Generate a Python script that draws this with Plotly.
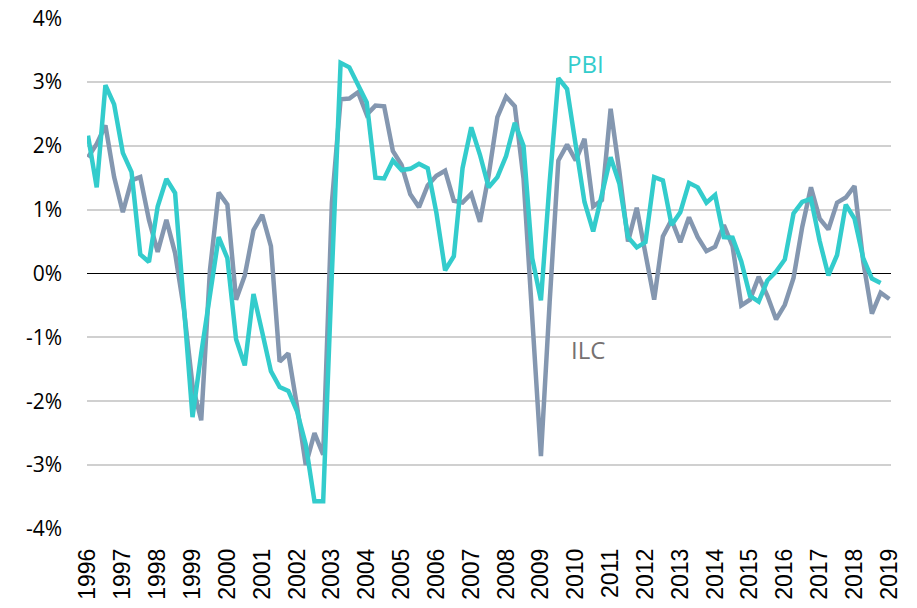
import plotly.graph_objects as go

years = [str(y) for y in range(1996, 2020)]

pbi = [2.16, 1.35, 2.95, 2.65, 1.89, 1.59, 0.30, 0.18, 1.05, 1.48,
       1.26, -0.50, -2.25, -1.25, -0.35, 0.57, 0.24, -1.03, -1.44, -0.32,
       -0.92, -1.53, -1.78, -1.84, -2.16, -2.68, -3.57, -3.57, 0.00, 3.30,
       3.23, 2.95, 2.68, 1.50, 1.49, 1.77, 1.62, 1.64, 1.72, 1.65,
       0.95, 0.05, 0.27, 1.65, 2.29, 1.86, 1.35, 1.51, 1.84, 2.36,
       2.00, 0.24, -0.42, 1.43, 3.06, 2.89, 2.03, 1.12, 0.66, 1.27,
       1.82, 1.41, 0.57, 0.41, 0.49, 1.51, 1.46, 0.76, 0.96, 1.42,
       1.35, 1.11, 1.23, 0.57, 0.56, 0.19, -0.35, -0.44, -0.11, 0.03,
       0.22, 0.94, 1.12, 1.17, 0.51, -0.03, 0.29, 1.08, 0.86, 0.24,
       -0.08, -0.15]

ilc = [1.82, 2.03, 2.32, 1.51, 0.96, 1.46, 1.51, 0.84, 0.34, 0.84,
       0.32, -0.55, -1.75, -2.30, 0.05, 1.27, 1.08, -0.41, -0.03, 0.68,
       0.92, 0.43, -1.38, -1.25, -2.08, -3.00, -2.50, -2.84, 1.11, 2.73,
       2.74, 2.84, 2.49, 2.63, 2.62, 1.92, 1.70, 1.24, 1.04, 1.38,
       1.53, 1.61, 1.14, 1.11, 1.25, 0.81, 1.54, 2.45, 2.77, 2.62,
       1.49, -0.60, -2.86, -0.45, 1.77, 2.02, 1.77, 2.11, 1.05, 1.15,
       2.58, 1.60, 0.50, 1.03, 0.30, -0.41, 0.58, 0.84, 0.49, 0.88,
       0.57, 0.35, 0.42, 0.76, 0.43, -0.50, -0.41, -0.05, -0.35, -0.72,
       -0.49, -0.07, 0.73, 1.35, 0.86, 0.69, 1.11, 1.19, 1.37, 0.19,
       -0.63, -0.30, -0.40]

y_ticks = [-4, -3, -2, -1, 0, 1, 2, 3, 4]
y_ticktext = [f"{v}%" for v in y_ticks]

teal = "#33CCCC"
slate = "#8497B0"

fig = go.Figure()
fig.add_trace(go.Scatter(x=list(range(len(ilc))), y=ilc, mode="lines",
                         line=dict(color=slate, width=4.5), name="ILC"))
fig.add_trace(go.Scatter(x=list(range(len(pbi))), y=pbi, mode="lines",
                         line=dict(color=teal, width=4.5), name="PBI"))

fig.add_annotation(x=57.1, y=3.29, text="PBI", showarrow=False,
                   font=dict(family="Open Sans", size=24, color=teal),
                   xanchor="center", yanchor="middle")
fig.add_annotation(x=57.4, y=-1.19, text="ILC", showarrow=False,
                   font=dict(family="Open Sans", size=24, color="#767171"),
                   xanchor="center", yanchor="middle")

fig.update_layout(
    width=917, height=608,
    margin=dict(l=87, r=26, t=18, b=79, autoexpand=False),
    paper_bgcolor="white", plot_bgcolor="white",
    showlegend=False,
    xaxis=dict(range=[-0.115, 92.19], tickmode="array",
               tickvals=[4 * k for k in range(len(years))], ticktext=years,
               tickangle=-90, showgrid=False, zeroline=False, showline=False,
               ticks="", ticklabelstandoff=14, automargin=False,
               tickfont=dict(family="Liberation Sans", size=23, color="black")),
    yaxis=dict(range=[-4.003, 4.003], tickmode="array", tickvals=y_ticks,
               ticktext=y_ticktext, showgrid=True, gridcolor="#D0D0D0",
               gridwidth=1.5, zeroline=True, zerolinecolor="black",
               zerolinewidth=1.2, showline=False, ticks="",
               ticklabelstandoff=24, automargin=False,
               tickfont=dict(family="Open Sans", size=21, color="black")),
)

fig.write_html("out.html",
               config={"displayModeBar": False},
               post_script="document.body.style.margin='0';"
                           "document.body.style.overflow='hidden';")
